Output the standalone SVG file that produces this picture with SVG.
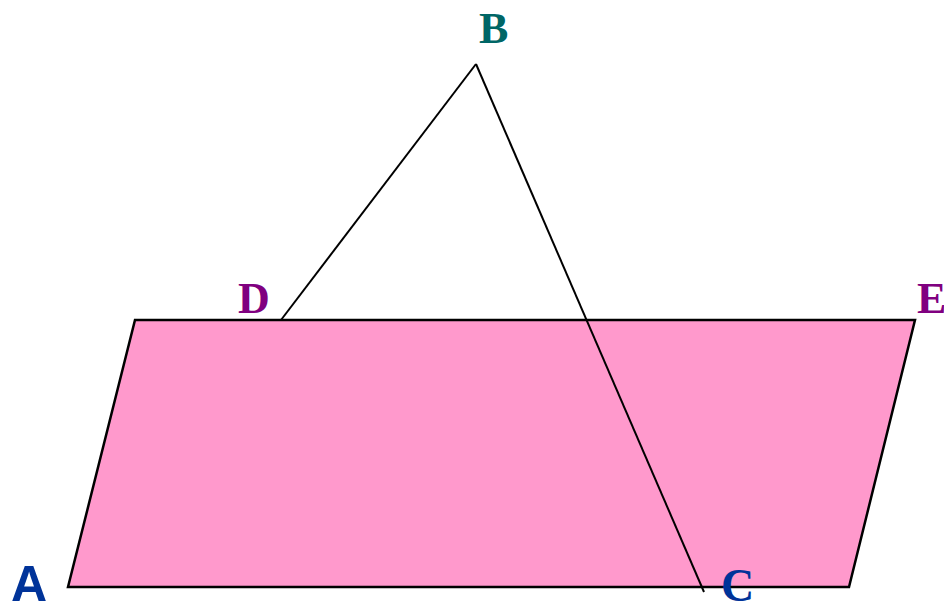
<svg xmlns="http://www.w3.org/2000/svg" width="944" height="603" viewBox="0 0 944 603">
<style>
.lbl{font-family:"Liberation Serif","Times New Roman",serif;font-weight:bold;font-size:44px}
.ln{fill:none;stroke:#000;stroke-width:2}
</style>
<rect width="944" height="603" fill="#fff"/>
<g id="plane">
<polygon points="135,320 915,320 849,587 68,587" fill="#FF99CC" stroke="#000" stroke-width="2.5"/>
</g>
<g id="connectors">
<line class="ln" x1="476" y1="64" x2="281" y2="320"/>
<line class="ln" x1="476" y1="64" x2="704" y2="592"/>
</g>
<g id="B"><text class="lbl" x="479" y="43" fill="#006666">B</text></g>
<g id="D"><text class="lbl" x="238" y="313" fill="#800080">D</text></g>
<g id="E"><text class="lbl" x="917" y="313" fill="#800080">E</text></g>
<g id="C"><text class="lbl" x="721" y="601" fill="#003399" style="font-size:46px">C</text></g>
<g id="A"><text x="11" y="601" fill="#003399" style="font-family:'Liberation Sans',Arial,sans-serif;font-weight:bold;font-size:50px">A</text></g>
</svg>
